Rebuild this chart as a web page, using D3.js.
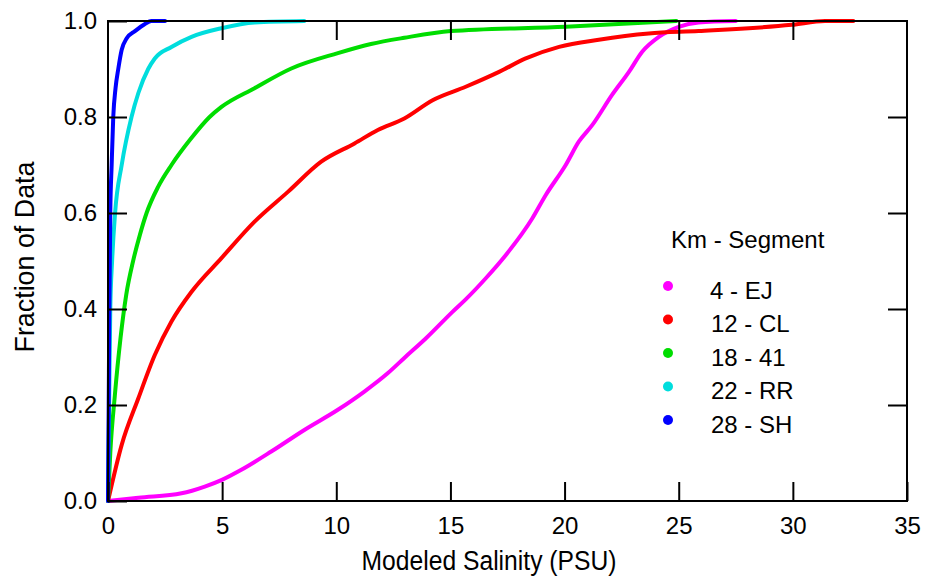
<!DOCTYPE html>
<html>
<head>
<meta charset="utf-8">
<script src="https://cdn.jsdelivr.net/npm/d3@7"></script>
<style>
  html, body { margin: 0; padding: 0; background: #fff; }
  svg { display: block; font-family: "Liberation Sans", Arial, sans-serif; }
</style>
</head>
<body>
<svg id="chart" width="927" height="581"></svg>
<script>
// ---- Data ----
const seriesNames = ["4 - EJ", "12 - CL", "18 - 41", "22 - RR", "28 - SH"];
const seriesColors = ["#ff00ff", "#ff0000", "#00dd00", "#00dddd", "#0000ff"];

const ejSalinity = [0, 1.33, 3.22, 4.24, 4.99, 5.84, 7.15, 8.6, 10.07, 11.23, 12.25, 12.98, 13.93, 15.09, 15.67, 16.55, 17.42, 18.59, 19.17, 20.05, 20.63, 21.21, 22.08, 22.82, 23.4, 24.13, 25.0, 25.87, 27.5];
const ejFraction = [0, 0.007, 0.016, 0.03, 0.044, 0.065, 0.103, 0.148, 0.19, 0.228, 0.266, 0.298, 0.339, 0.394, 0.42, 0.464, 0.512, 0.589, 0.637, 0.70, 0.749, 0.783, 0.846, 0.894, 0.936, 0.967, 0.988, 0.997, 1.0];

const clSalinity = [0, 0.6, 1.33, 2.05, 2.78, 3.66, 4.97, 6.42, 7.88, 9.34, 10.8, 11.82, 12.98, 14.22, 15.67, 17.13, 18.3, 19.76, 21.5, 23.69, 25.87, 29.95, 31.41, 32.65];
const clFraction = [0, 0.117, 0.214, 0.304, 0.374, 0.436, 0.506, 0.582, 0.644, 0.707, 0.745, 0.773, 0.797, 0.835, 0.863, 0.894, 0.922, 0.946, 0.961, 0.974, 0.979, 0.992, 1.0, 1.0];

const s41Salinity = [0, 0.1, 0.3, 0.55, 0.8, 1.1, 1.4, 1.69, 2.2, 2.78, 3.6, 4.45, 4.97, 6.42, 8.03, 10.07, 11.52, 12.98, 15.02, 20.05, 24.9];
const s41Fraction = [0, 0.1, 0.22, 0.34, 0.43, 0.5, 0.555, 0.6, 0.655, 0.7, 0.753, 0.8, 0.821, 0.86, 0.901, 0.933, 0.952, 0.965, 0.979, 0.988, 1.0];

const rrSalinity = [0, 0.05, 0.1, 0.18, 0.31, 0.6, 1.03, 1.33, 1.76, 2.05, 2.78, 3.66, 4.97, 6.42, 8.6];
const rrFraction = [0, 0.2, 0.4, 0.5, 0.6, 0.7, 0.8, 0.85, 0.9, 0.922, 0.946, 0.967, 0.985, 0.997, 1.0];

const shSalinity = [0, 0.03, 0.06, 0.1, 0.16, 0.23, 0.33, 0.45, 0.6, 0.82, 1.18, 1.62, 1.9, 2.5];
const shFraction = [0, 0.2, 0.4, 0.6, 0.7, 0.8, 0.86, 0.9, 0.94, 0.964, 0.979, 0.994, 1.0, 1.0];

const xTicks = [0, 5, 10, 15, 20, 25, 30, 35];
const yTicks = [0, 0.2, 0.4, 0.6, 0.8, 1.0];
const xTitle = "Modeled Salinity (PSU)";
const yTitle = "Fraction of Data";
const legendTitle = "Km - Segment";

const seriesX = [ejSalinity, clSalinity, s41Salinity, rrSalinity, shSalinity];
const seriesY = [ejFraction, clFraction, s41Fraction, rrFraction, shFraction];

// ---- Layout ----
const svg = d3.select("#chart");
const plotLeft = 108, plotRight = 907, plotTop = 21, plotBottom = 501;
const tickLen = 19;

const x = d3.scaleLinear().domain([0, 35]).range([plotLeft, plotRight]);
const y = d3.scaleLinear().domain([0, 1]).range([plotBottom, plotTop]);

// ---- Curves ----
const line = d3.line()
  .x(d => x(d[0]))
  .y(d => y(d[1]))
  .curve(d3.curveMonotoneX);

const plot = svg.append("g");
seriesNames.forEach((name, i) => {
  const pts = seriesX[i].map((v, j) => [v, seriesY[i][j]]);
  plot.append("path")
    .datum(pts)
    .attr("fill", "none")
    .attr("stroke", seriesColors[i])
    .attr("stroke-width", 4)
    .attr("stroke-linejoin", "round")
    .attr("stroke-linecap", "round")
    .attr("d", line);
});

// ---- Axes (ticks on all four sides, pointing inward) ----
function styleAxis(g) {
  g.select(".domain").remove();
  g.selectAll(".tick line").attr("stroke", "#000").attr("stroke-width", 2);
  g.selectAll(".tick text").attr("fill", "#000").style("font-size", "24px")
    .style("font-family", '"Liberation Sans", Arial, sans-serif');
}

svg.append("g")
  .attr("transform", `translate(0,${plotBottom})`)
  .call(d3.axisBottom(x).tickValues(xTicks).tickSizeInner(-tickLen).tickSizeOuter(0)
    .tickPadding(16).tickFormat(d3.format("d")))
  .call(styleAxis);

svg.append("g")
  .attr("transform", `translate(0,${plotTop})`)
  .call(d3.axisTop(x).tickValues(xTicks.slice(1, -1)).tickSizeInner(-tickLen).tickSizeOuter(0)
    .tickFormat(""))
  .call(styleAxis);

svg.append("g")
  .attr("transform", `translate(${plotLeft},0)`)
  .call(d3.axisLeft(y).tickValues(yTicks).tickSizeInner(-tickLen).tickSizeOuter(0)
    .tickPadding(11).tickFormat(d3.format(".1f")))
  .call(styleAxis);

svg.append("g")
  .attr("transform", `translate(${plotRight},0)`)
  .call(d3.axisRight(y).tickValues(yTicks.slice(1, -1)).tickSizeInner(-tickLen).tickSizeOuter(0)
    .tickFormat(""))
  .call(styleAxis);

// Frame
svg.append("rect")
  .attr("x", plotLeft).attr("y", plotTop)
  .attr("width", plotRight - plotLeft).attr("height", plotBottom - plotTop)
  .attr("fill", "none").attr("stroke", "#000").attr("stroke-width", 2);

// ---- Axis titles ----
svg.append("text")
  .attr("x", 489).attr("y", 570)
  .attr("text-anchor", "middle")
  .attr("textLength", 255).attr("lengthAdjust", "spacingAndGlyphs")
  .style("font-size", "27px").attr("fill", "#000")
  .text(xTitle);

svg.append("text")
  .attr("transform", "translate(34,257) rotate(-90)")
  .attr("text-anchor", "middle")
  .attr("textLength", 191).attr("lengthAdjust", "spacingAndGlyphs")
  .style("font-size", "28px").attr("fill", "#000")
  .text(yTitle);

// ---- Legend ----
const legend = svg.append("g");
legend.append("text")
  .attr("x", 671).attr("y", 248)
  .style("font-size", "24px").attr("fill", "#000")
  .text(legendTitle);

seriesNames.forEach((name, i) => {
  const cy = 286 + i * 33.5;
  legend.append("circle")
    .attr("cx", 668).attr("cy", cy).attr("r", 5)
    .attr("fill", seriesColors[i]);
  legend.append("text")
    .attr("x", name.startsWith("4 ") ? 710 : 711)
    .attr("y", cy + 12.5)
    .style("font-size", "24px").attr("fill", "#000")
    .text(name);
});
</script>
</body>
</html>
